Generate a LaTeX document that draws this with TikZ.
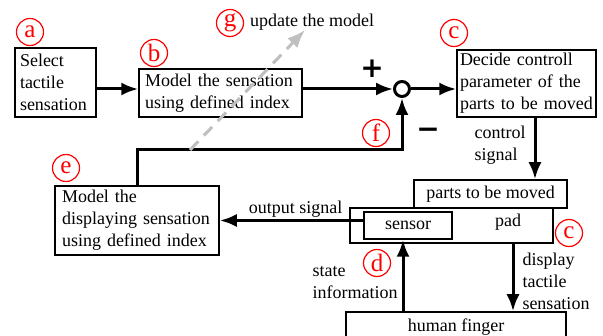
\documentclass[tikz,border=0pt]{standalone}
\usepackage{fontspec}
\setmainfont{Liberation Serif}
\newfontfamily\signfont{DejaVu Sans}
\usetikzlibrary{arrows.meta}
\tikzset{block/.style = {draw, line width=1.5pt, inner sep=0pt, font=\fontsize{18}{22}\selectfont}}
\tikzset{edge/.style = {-{Latex[length=17pt,width=13pt]}, line width=3pt}}
\tikzset{tag/.style = {circle, draw=red, text=red, line width=1.2pt, minimum size=27pt, inner sep=0pt, font=\fontsize{25}{25}\selectfont}}
\tikzset{lbl/.style = {font=\fontsize{18}{22}\selectfont, align=left, inner sep=2pt}}
\tikzset{sign/.style = {inner sep=0pt, font=\signfont\bfseries\fontsize{28}{28}\selectfont}}

\begin{document}
\begin{tikzpicture}[x=1pt, y=-1pt]
		\useasboundingbox (0,0) rectangle (603,336);
		\clip (0,0) rectangle (603,336);

		% blocks
		\node[block, inner xsep=5pt, text width=71pt, minimum height=69pt, align=left] (sel) at (55.5,82.5) {Select\\tactile\\sensation};
		\node[block, inner xsep=6pt, text width=151pt, minimum height=48pt, align=left] (model) at (220.5,93) {Model the sensation\\using defined index};
		\node[block, inner xsep=3pt, text width=133pt, minimum height=67pt, align=left] (decide) at (526.5,83.5) {Decide controll\\parameter of the\\parts to be moved};
		\node[block, inner xsep=7pt, text width=150pt, minimum height=69pt, align=left] (disp) at (137,220.5) {Model the\\displaying sensation\\using defined index};
		\node[block, minimum width=153pt, minimum height=28pt] (parts) at (490.5,194) {parts to be moved};
		\node[block, minimum width=203pt, minimum height=35pt] (pad) at (451.5,225.5) {};
		\node[block, minimum width=88pt, minimum height=27pt] (sensor) at (408,225.5) {sensor};
		\node[lbl] (padtxt) at (508,222) {pad};
		\node[block, minimum width=220pt, minimum height=30pt] (finger) at (456,327) {human finger};

		% summing point
		\node[circle, draw, line width=3pt, minimum size=15pt, inner sep=0pt] (sum) at (402,89) {};
		\node[sign] (plus) at (372,69) {+};
		\node[sign] (minus) at (428,133) {−};

		% helper points
		\coordinate (ctl) at (535,0);
		\coordinate (st) at (403,0);
		\coordinate (dsp) at (513,0);
		\coordinate (fbk) at (402,150);
		\coordinate (upd0) at (190,150);
		\coordinate (upd1) at (305,30);

		% edges
		\draw[edge] (sel.east |- sum) -- (model.west |- sum);
		\draw[edge] (model.east |- sum) -- (sum.west);
		\draw[edge] (sum.east) -- (decide.west |- sum);
		\draw[edge] (decide.south -| ctl) -- node[lbl, left, pos=0.45, xshift=-6pt] {control\\signal} (parts.north -| ctl);
		\draw[edge] (disp.north) |- (fbk) -- (sum.south);
		\draw[edge] (sensor.west |- disp) -- node[lbl, above, xshift=4pt] {output signal} (disp.east);
		\draw[edge] (finger.north -| st) -- node[lbl, left, pos=0.4, xshift=-2pt] {state\\information} (sensor.south -| st);
		\draw[edge] (pad.south -| dsp) -- node[lbl, right, pos=0.55, xshift=6pt] {display\\tactile\\sensation} (finger.north -| dsp);
		\draw[-{Latex[length=18pt,width=14pt]}, black!25, line width=3pt, dash pattern=on 12pt off 8pt] (upd0) -- (upd1);
		\node[lbl, anchor=west] (updtxt) at (248,22) {update the model};

		% tags
		\node[tag] (ta) at (30,32) {a};
		\node[tag] (tb) at (154,53) {b};
		\node[tag] (tc) at (454,33) {c};
		\node[tag] (tg) at (230,23) {g};
		\node[tag] (te) at (66,168) {e};
		\node[tag] (tf) at (376,133) {f};
		\node[tag] (td) at (377,263) {d};
		\node[tag] (tc2) at (569,233) {c};
\end{tikzpicture}
\end{document}
